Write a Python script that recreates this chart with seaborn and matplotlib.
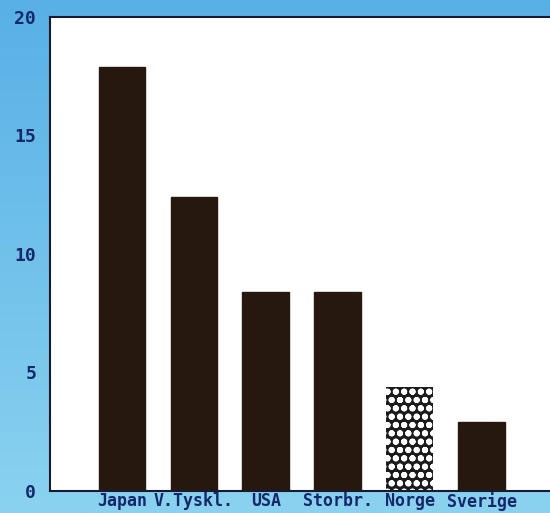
import numpy as np
import pandas as pd
import matplotlib
matplotlib.use("Agg")
import matplotlib.pyplot as plt
import seaborn as sns

# data
countries = ["Japan", "V.Tyskl.", "USA", "Storbr.", "Norge", "Sverige"]
values = [17.9, 12.4, 8.4, 8.4, 4.4, 2.9]
yticks = [0, 5, 10, 15, 20]

sns.set_style("white")
plt.rcParams["font.family"] = ["DejaVu Sans Mono", "DejaVu Sans"]
plt.rcParams["hatch.linewidth"] = 2.0

navy = "#14286a"
bar_col = "#26180f"

df = pd.DataFrame({"country": countries, "value": values})

fig = plt.figure(figsize=(5.5, 5.13), dpi=100)

# light blue backdrop, slightly darker at the top
bg = fig.add_axes([0, 0, 1, 1], zorder=-10)
grad = np.linspace(0, 1, 256).reshape(-1, 1)
cmap = matplotlib.colors.LinearSegmentedColormap.from_list(
    "bg", ["#58b0e6", "#8ad2f0"])
bg.imshow(grad, aspect="auto", cmap=cmap, extent=[0, 1, 0, 1])
bg.axis("off")

ax = fig.add_axes([0.091, 0.043, 0.909, 0.924])
ax.set_facecolor("white")

sns.barplot(data=df, x="country", y="value", color=bar_col, width=0.65,
            saturation=1, ax=ax)

# Norge gets the dotted / checker fill
norge = ax.patches[countries.index("Norge")]
norge.set_facecolor("#1c1c1c")
norge.set_edgecolor("white")
norge.set_hatch("oo")
norge.set_linewidth(0)

for p in ax.patches:
    if p is not norge:
        p.set_edgecolor(bar_col)

ax.set_xlim(-1.0, 5.95)
ax.set_ylim(0, 20)
ax.set_yticks(yticks)
ax.set_yticklabels([str(t) for t in yticks], fontweight="bold", fontsize=13,
                   color=navy)
ax.set_xticks(range(len(countries)))
ax.set_xticklabels(countries, fontsize=12, fontweight="bold", color=navy)
ax.tick_params(axis="y", direction="in", length=9, width=1.2, color="#333333",
               pad=10)
ax.tick_params(axis="x", length=0, pad=1)
ax.set_xlabel("")
ax.set_ylabel("")

for side in ["left", "top", "bottom"]:
    ax.spines[side].set_color("#1a1a2e")
    ax.spines[side].set_linewidth(1.5)
ax.spines["right"].set_visible(False)

fig.savefig("out.png", dpi=100)
